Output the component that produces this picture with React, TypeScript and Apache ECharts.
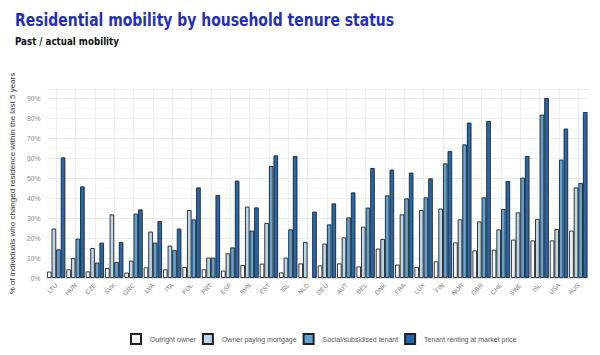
import React, { useEffect, useRef } from "react";
import * as echarts from "echarts";

const categories = ["LTU","HUN","CZE","SVK","GRC","LVA","ITA","POL","PRT","ESP","SVN","EST","IRL","NLD","DEU","AUT","BEL","DNK","FRA","LUX","FIN","NOR","GBR","CHE","SWE","ISL","USA","AUS"];
const outrightOwner = [3.2,4.3,3.3,5,2.7,5.3,4.3,5.5,4.3,3.7,6.5,7.2,2.8,7.3,6.3,7.3,5.8,14.7,6.7,5.5,8.3,17.8,13.8,14.2,19.2,18.8,18.8,23.7];
const ownerMortgage = [24.7,10,15,31.8,8.7,23.2,16.2,34,10.2,12.3,35.7,27.5,10.2,18,17.2,20.3,25.7,19.5,31.8,34,34.7,29.3,28.3,24.3,32.8,29.5,24.5,45.3];
const socialTenant = [14.3,19.7,7.7,8,32.2,17.7,14,29.3,10.2,15.3,23.7,56,24.3,null,26.8,30.3,35.2,41.3,39.8,40.3,57.3,66.8,40.3,34.5,50.2,81.7,59.2,47.5];
const marketTenant = [60.3,45.8,17.7,18,34.3,28.5,24.7,45.3,41.5,48.7,35.3,61.3,61,33.2,37.3,42.8,55,54.2,52.7,49.8,63.5,77.7,78.5,48.5,61,90,74.7,83];
const seriesNames = ["Outright owner","Owner paying mortgage","Social/subsidised tenant","Tenant renting at market price"];
const seriesColors = ["#f4f7fc","#bcd6ea","#5fa2d4","#2268b0"];
const yTicks = [0,10,20,30,40,50,60,70,80,90];
const FONT = "Liberation Sans Narrow, DejaVu Sans Condensed, sans-serif";

export default function App() {
  const ref = useRef<HTMLDivElement>(null);
  useEffect(() => {
    if (!ref.current) return;
    const chart = echarts.init(ref.current, null, { renderer: "svg" });
    const data = [outrightOwner, ownerMortgage, socialTenant, marketTenant];
    chart.setOption({
      animation: false,
      backgroundColor: "#ffffff",
      graphic: [
        {
          type: "text", left: 15, top: 11, scaleX: 0.862,
          style: { text: "Residential mobility by household tenure status", font: "bold 18px " + FONT, fill: "#2330b5" },
        },
        {
          type: "text", left: 15, top: 35, scaleX: 0.88,
          style: { text: "Past / actual mobility", font: "bold 11px " + FONT, fill: "#111" },
        },
      ],
      legend: {
        left: 125, top: 328,
        itemWidth: 10, itemHeight: 10, itemGap: 6,
        icon: "rect",
        data: seriesNames,
        textStyle: { fontFamily: "Liberation Sans, Arial, sans-serif", fontSize: 7, color: "#555", padding: [0, 0, 0, 4] },
      },
      grid: { left: 42, right: 12, top: 89, bottom: 77, containLabel: false },
      xAxis: {
        type: "category",
        data: categories,
        axisLine: { show: false },
        axisTick: { show: false },
        axisLabel: { rotate: 45, fontSize: 6.3, color: "#777", margin: 6, fontFamily: "Liberation Sans, Arial, sans-serif" },
        splitLine: { show: true, alignWithLabel: true, lineStyle: { color: "#e8e8e8", width: 0.8 } },
      },
      yAxis: {
        type: "value",
        min: 0, max: 94.5, interval: 10,
        name: "% of individuals who changed residence within the last 5 years",
        nameLocation: "middle", nameGap: 21, nameRotate: 90,
        nameTextStyle: { fontSize: 8, color: "#333", fontFamily: "Liberation Sans, Arial, sans-serif" },
        axisLine: { show: false },
        axisTick: { show: false },
        axisLabel: {
          fontSize: 6.8, color: "#888", margin: 6, showMaxLabel: false,
          fontFamily: "Liberation Sans, Arial, sans-serif",
          formatter: (v: number) => (yTicks.includes(v) ? v + "%" : ""),
        },
        splitLine: { show: true, lineStyle: { color: "#e6e6e6", width: 0.8 } },
        minorTick: { show: false, splitNumber: 2 },
        minorSplitLine: { show: true, lineStyle: { color: "#f3f3f3", width: 0.6 } },
      },
      series: data.map((d, i) => ({
        name: seriesNames[i],
        type: "bar",
        data: d.map((v) => (v === null ? "-" : v)),
        barGap: "0%",
        barCategoryGap: "5%",
        itemStyle: { color: seriesColors[i], borderColor: "#222", borderWidth: 0.9 },
      })),
    });
    return () => chart.dispose();
  }, []);
  return <div ref={ref} style={{ position: "absolute", left: 0, top: 0, width: 600, height: 355 }} />;
}
